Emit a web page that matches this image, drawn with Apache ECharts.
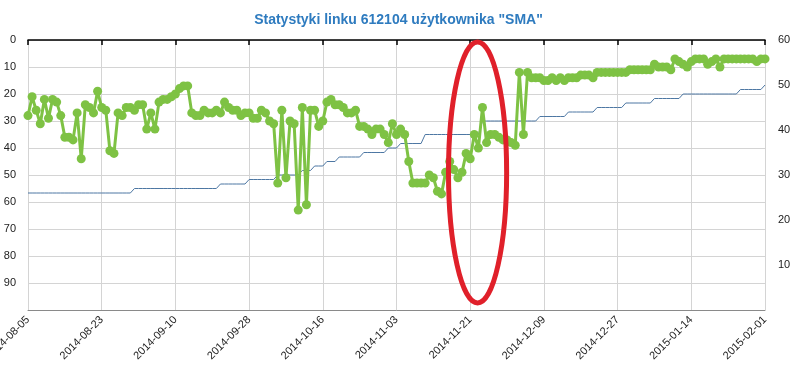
<!DOCTYPE html>
<html>
<head>
<meta charset="utf-8">
<script src="https://cdn.jsdelivr.net/npm/echarts@6/dist/echarts.min.js"></script>
<style>html,body{margin:0;padding:0;background:#fff}#c{width:797px;height:369px}</style>
</head>
<body>
<div id="c"></div>
<script>
// ---- DATA ----
const titleText = 'Statystyki linku 612104 użytkownika "SMA"';
const startDate = '2014-08-05';
const dayCount = 181;
// position of the link (left axis, inverted)
const positionValues = [28,21,26,31,22,29,22,23,28,36,
36,37,27,44,24,25,27,19,25,26,
41,42,27,28,25,25,26,24,24,33,
27,33,23,22,22,21,20,18,17,17,
27,28,28,26,27,27,26,27,23,25,
26,26,28,27,27,29,29,26,27,30,
31,53,26,51,30,31,63,25,61,26,
26,32,30,23,22,24,24,25,27,27,
26,32,32,33,35,33,33,35,38,31,
35,33,35,45,53,53,53,53,50,51,
56,57,49,45,48,51,49,42,44,35,
40,25,38,35,35,36,37,37,38,39,
12,35,12,14,14,14,15,15,14,15,
14,15,14,14,14,13,13,13,14,12,
12,12,12,12,12,12,12,11,11,11,
11,11,11,9,10,10,10,11,7,8,
9,10,8,7,7,7,9,8,7,10,
7,7,7,7,7,7,7,7,8,7,
7];
// right axis series (step line)
const rightValues = [26,26,26,26,26,26,26,26,26,26,
26,26,26,26,26,26,26,26,26,26,
26,26,26,26,26,26,27,27,27,27,
27,27,27,27,27,27,27,27,27,27,
27,27,27,27,27,27,27,28,28,28,
28,28,28,28,29,29,29,29,29,29,
29,30,30,30,30,30,30,31,31,31,
32,32,32,33,33,33,34,34,34,34,
34,34,35,35,35,35,35,35,36,36,
36,37,37,37,37,37,37,39,39,39,
39,39,39,39,39,39,39,39,39,39,
39,42,42,42,42,42,42,42,42,42,
42,42,42,42,42,43,43,43,43,43,
43,43,44,44,44,44,44,44,44,45,
45,45,45,45,45,45,46,46,46,46,
46,46,46,47,47,47,47,47,47,47,
48,48,48,48,48,48,48,48,48,48,
48,48,48,48,49,49,49,49,49,49,
50];
const leftTicks = [0,10,20,30,40,50,60,70,80,90];
const rightTicks = [10,20,30,40,50,60];
// annotation ellipse (in data units: day index range and left-axis value range)
const ellipseDays = [102.7, 116.9];
const ellipseValues = [0.7, 97.4];

// categories: consecutive days
const categories = [];
{
  const d0 = new Date(startDate + 'T00:00:00Z');
  for (let i = 0; i < dayCount; i++) {
    const d = new Date(d0.getTime() + i * 86400000);
    categories.push(d.toISOString().slice(0, 10));
  }
}

const font = 'Arial, "Liberation Sans", sans-serif';
const chart = echarts.init(document.getElementById('c'), null, {renderer: 'canvas'});
chart.setOption({
  animation: false,
  backgroundColor: '#fff',
  title: {
    text: titleText, left: 'center', top: 8,
    textStyle: {color: '#2e7bbf', fontSize: 14, fontWeight: 'bold', fontFamily: font}
  },
  grid: {left: 28, right: 32, top: 40, bottom: 59, containLabel: false, outerBoundsMode: 'none'},
  xAxis: [{
    type: 'category', data: categories, boundaryGap: false, position: 'bottom',
    axisLine: {show: true, lineStyle: {color: '#000', width: 1.5}},
    axisTick: {show: true, interval: 17, length: 5, lineStyle: {color: '#000', width: 1.5}},
    axisLabel: {interval: 17, rotate: 45, color: '#222', fontSize: 11, fontFamily: font, margin: 8, hideOverlap: false},
    splitLine: {show: true, interval: 17, lineStyle: {color: '#d4d4d4', width: 1}}
  }, {
    type: 'category', data: categories, boundaryGap: false, position: 'top',
    axisLine: {show: true, lineStyle: {color: '#8a8a8a', width: 1}},
    axisTick: {show: false}, axisLabel: {show: false}, splitLine: {show: false}
  }],
  yAxis: [{
    type: 'value', inverse: true, min: 0, max: 100, interval: 10,
    axisLine: {show: false}, axisTick: {show: false},
    axisLabel: {color: '#222', fontSize: 11, fontFamily: font, margin: 12,
      formatter: v => leftTicks.includes(v) ? String(v) : ''},
    splitLine: {show: true, lineStyle: {color: '#d4d4d4', width: 1}}
  }, {
    type: 'value', min: 0, max: 60, interval: 10, position: 'right',
    axisLine: {show: false}, axisTick: {show: false},
    axisLabel: {color: '#222', fontSize: 11, fontFamily: font, margin: 13,
      formatter: v => rightTicks.includes(v) ? String(v) : ''},
    splitLine: {show: false}
  }],
  series: [{
    type: 'line', yAxisIndex: 1, data: rightValues, symbol: 'none',
    lineStyle: {color: '#4d77a3', width: 1}, z: 2
  }, {
    type: 'line', yAxisIndex: 0, data: positionValues, symbol: 'circle', symbolSize: 9,
    showAllSymbol: true,
    itemStyle: {color: '#7ec244'}, lineStyle: {color: '#7ec244', width: 3}, z: 3
  }]
});

// annotation ellipse from data units
const xa = chart.convertToPixel({xAxisIndex: 0}, 0);
const xb = chart.convertToPixel({xAxisIndex: 0}, dayCount - 1);
const perDay = (xb - xa) / (dayCount - 1);
const x1 = xa + ellipseDays[0] * perDay, x2 = xa + ellipseDays[1] * perDay;
const y1 = chart.convertToPixel({yAxisIndex: 0}, ellipseValues[0]);
const y2 = chart.convertToPixel({yAxisIndex: 0}, ellipseValues[1]);
chart.setOption({
  graphic: [{
    type: 'ellipse', z: 100,
    shape: {cx: (x1 + x2) / 2, cy: (y1 + y2) / 2, rx: (x2 - x1) / 2, ry: (y2 - y1) / 2},
    style: {fill: 'none', stroke: '#e0202a', lineWidth: 5}
  }]
});
</script>
</body>
</html>
